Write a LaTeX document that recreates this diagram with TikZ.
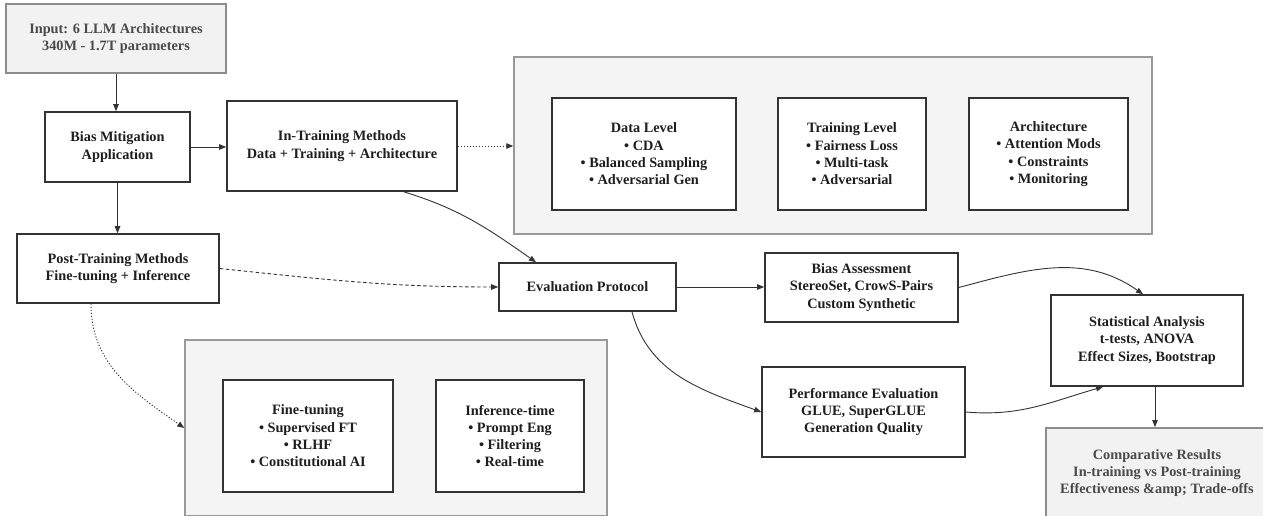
\documentclass[tikz,border=0pt]{standalone}
\usepackage{fontspec}
\setmainfont{Liberation Serif}
\usetikzlibrary{arrows.meta, positioning, calc}
\definecolor{boxline}{HTML}{333333}
\definecolor{grpfill}{HTML}{F4F4F4}
\definecolor{grpline}{HTML}{999999}
\definecolor{iofill}{HTML}{F2F2F2}
\definecolor{ioline}{HTML}{8C8C8C}
\definecolor{iotext}{HTML}{4A4A4A}
\definecolor{txt}{HTML}{1E1E1E}
\definecolor{wire}{HTML}{333333}

\begin{document}
\begin{tikzpicture}[
  x=1pt, y=1pt,
  >={Triangle[length=7pt, width=5.5pt]},
  every node/.style={font=\fontsize{14.3}{17.3}\selectfont\bfseries, align=center, inner sep=0pt},
  proc/.style={draw=boxline, line width=1.6pt, fill=white, text=txt},
  iobox/.style={draw=ioline, line width=1.8pt, fill=iofill, text=iotext},
  group/.style={draw=grpline, line width=1.5pt, fill=grpfill},
  link/.style={->, draw=wire, line width=0.9pt},
  dotlink/.style={link, dash pattern=on 1.2pt off 1.8pt},
  dashlink/.style={link, dash pattern=on 3.5pt off 2.5pt},
]

% Canvas: 1263 x 515, one unit = one pixel of the layout, y upward
\useasboundingbox (0,0) rectangle (1263,515);
\clip (0,0) rectangle (1263,515);

% --- Groups (drawn first, behind their boxes) ---
\node[group, minimum width=638pt, minimum height=177pt] (topgrp) at (833,369.5) {};
\node[group, minimum width=422pt, minimum height=176pt] (lowgrp) at (396,87) {};

% --- Input and mitigation ---
\node[iobox, minimum width=220pt, minimum height=69pt] (input) at (116,476.5)
  {Input: 6 LLM Architectures\\340M - 1.7T parameters};
\node[proc, minimum width=145pt, minimum height=70pt] (bias) at (117.5,368)
  {Bias Mitigation\\Application};
\node[proc, minimum width=230pt, minimum height=90pt] (intrain) at (342,369)
  {In-Training Methods\\Data + Training + Architecture};
\node[proc, minimum width=202pt, minimum height=69pt] (posttrain) at (118,246.5)
  {Post-Training Methods\\Fine-tuning + Inference};

% --- In-training group ---
\node[proc, minimum width=184pt, minimum height=112pt] (datalvl) at (644,361)
  {Data Level\\• CDA\\• Balanced Sampling\\• Adversarial Gen};
\node[proc, minimum width=148pt, minimum height=112pt] (trainlvl) at (852,361)
  {Training Level\\• Fairness Loss\\• Multi-task\\• Adversarial};
\node[proc, minimum width=159pt, minimum height=112pt] (archlvl) at (1048.5,361)
  {Architecture\\• Attention Mods\\• Constraints\\• Monitoring};

% --- Post-training group ---
\node[proc, minimum width=170pt, minimum height=112pt] (finetune) at (308,79)
  {Fine-tuning\\• Supervised FT\\• RLHF\\• Constitutional AI};
\node[proc, minimum width=148pt, minimum height=112pt] (infer) at (510,79)
  {Inference-time\\• Prompt Eng\\• Filtering\\• Real-time};

% --- Evaluation ---
\node[proc, minimum width=177pt, minimum height=48pt] (evalp) at (587.5,228)
  {Evaluation Protocol};
\node[proc, minimum width=193pt, minimum height=69pt] (biasas) at (861.5,227.5)
  {Bias Assessment\\StereoSet, CrowS-Pairs\\Custom Synthetic};
\node[proc, minimum width=203pt, minimum height=90pt] (perf) at (863.5,103)
  {Performance Evaluation\\GLUE, SuperGLUE\\Generation Quality};
\node[proc, minimum width=192pt, minimum height=91pt] (stats) at (1147,174.5)
  {Statistical Analysis\\t-tests, ANOVA\\Effect Sizes, Bootstrap};
\node[iobox, minimum width=222pt, minimum height=90pt] (comp) at (1157,42)
  {Comparative Results\\In-training vs Post-training\\Effectiveness \&amp; Trade-offs};

% --- Connectors ---
\draw[link] (input.south) -- (input.south |- bias.north);
\draw[link] (bias.east) -- (bias.east -| intrain.west);
\draw[dotlink] (intrain.east) -- (intrain.east -| topgrp.west);
\draw[link] (bias.south) -- (bias.south |- posttrain.north);
\draw[link] ([xshift=-54pt]intrain.south east) to[out=-17, in=145] ([xshift=-51.5pt]evalp.north);
\draw[dashlink] (posttrain.east) to[out=-6, in=180] (evalp.west);
\draw[dotlink] ([xshift=-27pt]posttrain.south) to[out=-90, in=145] (lowgrp.west);
\draw[link] (evalp.east) -- (evalp.east -| biasas.west);
\draw[link] ([xshift=44.5pt]evalp.south) to[out=-75, in=160] (perf.west);
\draw[link] (biasas.east) to[out=15, in=145] ([xshift=-4pt]stats.north);
\draw[link] (perf.east) to[out=-5, in=196] ([xshift=-44pt]stats.south);
\draw[link] ([xshift=8pt]stats.south) -- ([xshift=8pt]stats.south |- comp.north);

\end{tikzpicture}
\end{document}
